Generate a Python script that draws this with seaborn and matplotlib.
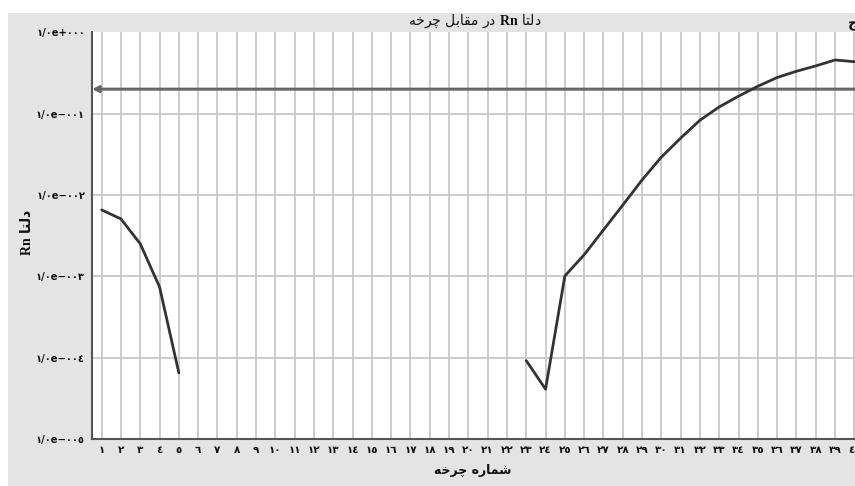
import numpy as np
import pandas as pd
import matplotlib
matplotlib.use("Agg")
import matplotlib.pyplot as plt
import seaborn as sns
from matplotlib.patches import Rectangle

# Delta Rn per amplification cycle (cycles 6-22 have no value)
cycles = list(range(1, 41))
delta_rn = ([0.00655, 0.00508, 0.00251, 0.00074, 0.000065]
            + [np.nan] * 17
            + [0.000092, 0.000041, 0.00101, 0.00184, 0.00372, 0.0075,
               0.0153, 0.0292, 0.050, 0.083, 0.121, 0.164, 0.217,
               0.278, 0.332, 0.386, 0.457, 0.435])
threshold = 0.2

y_ticks = [1e-5, 1e-4, 1e-3, 1e-2, 1e-1, 1e0]
y_tick_labels = ["١/٠e−٠٠٥", "١/٠e−٠٠٤", "١/٠e−٠٠٣",
                 "١/٠e−٠٠٢", "١/٠e−٠٠١", "١/٠e+٠٠٠"]

ARABIC_DIGITS = str.maketrans("0123456789", "٠١٢٣٤٥٦٧٨٩")
x_tick_labels = [str(c).translate(ARABIC_DIGITS) for c in cycles]

# Persian strings written in visual (left-to-right) order with joined letter forms
word_delta = "\uFE8E\uFE98\uFEDF\uFEA9"          # دلتا
word_dar = "\uFEAD\uFEA9"                         # در
word_moghabel = "\uFEDE\uFE91\uFE8E\uFED8\uFEE3"  # مقابل
word_charkhe = "\uFEEA\uFEA7\uFEAE\uFB7C"         # چرخه
word_shomare = "\uFEE9\uFEAD\uFE8E\uFEE4\uFEB7"   # شماره

title_text = f"{word_charkhe} {word_moghabel} {word_dar} $\\mathbf{{Rn}}$ {word_delta}"
ylabel_text = f"$\\mathbf{{Rn}}$ {word_delta}"
xlabel_text = f"{word_charkhe} {word_shomare}"

sns.set_style("white")
plt.rcParams["font.family"] = ["DejaVu Sans"]
plt.rcParams["mathtext.fontset"] = "custom"
plt.rcParams["mathtext.bf"] = "Liberation Serif:bold"
plt.rcParams["mathtext.rm"] = "DejaVu Sans"

W, H = 855, 486
fig = plt.figure(figsize=(W / 100, H / 100), dpi=100, facecolor="white")
fig.patches.append(Rectangle((8 / W, 0), 1, 1 - 13 / H, transform=fig.transFigure,
                             facecolor="#e4e4e4", edgecolor="none", zorder=-10))

ax_left, ax_right, ax_top, ax_bottom = 92, 864, 32.3, 439
ax = fig.add_axes([ax_left / W, 1 - ax_bottom / H,
                   (ax_right - ax_left) / W, (ax_bottom - ax_top) / H])
ax.set_facecolor("white")

df = pd.DataFrame({"cycle": cycles, "delta_rn": delta_rn})
df["run"] = df["delta_rn"].isna().cumsum()
df = df.dropna()

sns.lineplot(data=df, x="cycle", y="delta_rn", units="run", estimator=None,
             color="#333333", lw=2.0, ax=ax, zorder=3)

ax.set_yscale("log")
ax.set_ylim(1e-5, 1)
ax.set_xlim(0.5, 40.5)
ax.set_yticks(y_ticks)
ax.set_yticklabels(y_tick_labels)
ax.yaxis.set_minor_locator(matplotlib.ticker.NullLocator())
ax.set_xticks(cycles)
ax.set_xticklabels(x_tick_labels)
ax.set_xlabel("")
ax.set_ylabel("")

ax.grid(True, color="#c8c8c8", lw=1.3, zorder=0)
ax.set_axisbelow(True)
ax.get_ygridlines()[-1].set_visible(False)
for side in ("top", "right"):
    ax.spines[side].set_visible(False)
for side in ("left", "bottom"):
    ax.spines[side].set_color("#555555")
    ax.spines[side].set_linewidth(1.5)

ax.tick_params(axis="both", length=0, colors="#111111")
ax.tick_params(axis="x", pad=4, labelsize=7.5)
ax.tick_params(axis="y", pad=5, labelsize=7.2)
for lab in ax.get_xticklabels() + ax.get_yticklabels():
    lab.set_fontweight("bold")

# Threshold line with arrow head at the left end
ax.annotate("", xy=(0, threshold), xycoords=("axes fraction", "data"),
            xytext=(1, threshold), textcoords=("axes fraction", "data"),
            arrowprops=dict(arrowstyle="->", color="#666666", lw=2.2,
                            shrinkA=0, shrinkB=0, mutation_scale=9),
            zorder=2)

fig.text(475 / W, 1 - 21 / H, title_text, ha="center", va="center",
         fontsize=10, color="#111111")
fig.text(27 / W, 1 - 232 / H, ylabel_text, ha="center", va="center",
         rotation=90, fontsize=10, color="#111111", fontweight="bold")
fig.text(473 / W, 1 - 470 / H, xlabel_text, ha="center", va="center",
         fontsize=9, color="#111111", fontweight="bold")
fig.text(848 / W, 1 - 24 / H, "\uFE9D", ha="left", va="center",
         fontsize=10, color="#111111", fontweight="bold")

fig.savefig("out.png", dpi=100, facecolor=fig.get_facecolor())
